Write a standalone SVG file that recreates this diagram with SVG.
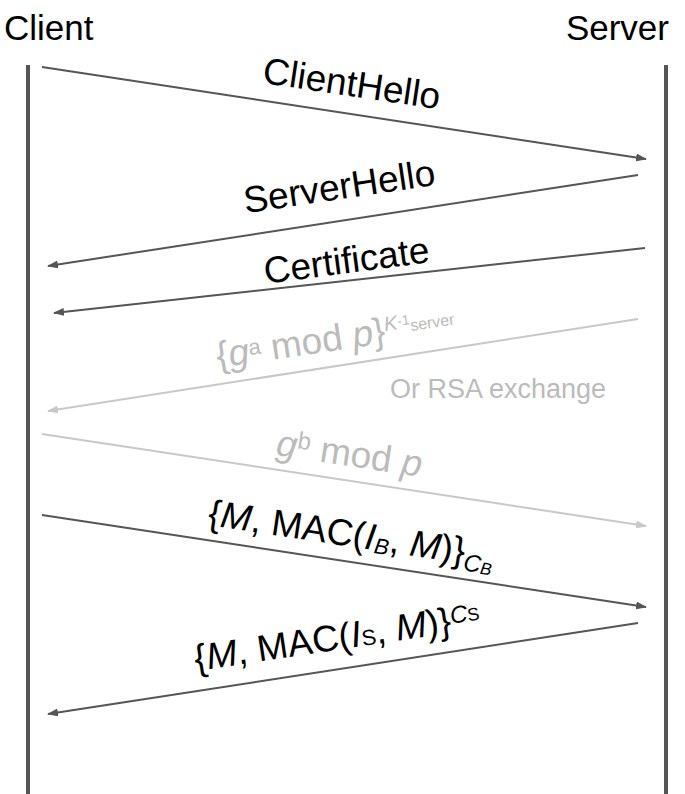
<svg xmlns="http://www.w3.org/2000/svg" width="685" height="794" viewBox="0 0 685 794">
<style>
text{font-family:"Liberation Sans",Arial,sans-serif;}
.title{font-size:35px;fill:#000;}
.lbl{font-size:37px;fill:#000;}
.lbl-g{font-size:37px;fill:#bbbbbb;}
.life{stroke:#555;stroke-width:4;fill:none;}
.msg{stroke:#555;stroke-width:2;fill:none;marker-end:url(#ad);}
.msg-g{stroke:#c8c8c8;stroke-width:2;fill:none;marker-end:url(#al);}
.it{font-style:italic;}
</style>
<defs>
<marker id="ad" markerWidth="11" markerHeight="8" refX="10" refY="4" orient="auto" markerUnits="userSpaceOnUse"><path d="M0,0 L11,4 L0,8 Z" fill="#555"/></marker>
<marker id="al" markerWidth="11" markerHeight="8" refX="10" refY="4" orient="auto" markerUnits="userSpaceOnUse"><path d="M0,0 L11,4 L0,8 Z" fill="#c8c8c8"/></marker>
</defs>
<rect width="685" height="794" fill="#fff"/>
<g id="client">
<text class="title" x="4" y="40">Client</text>
<line class="life" x1="28" y1="65" x2="28" y2="794"/>
</g>
<g id="server">
<text class="title" x="669" y="40" text-anchor="end">Server</text>
<line class="life" x1="666" y1="65" x2="666" y2="794"/>
</g>
<g id="connectors">
<line class="msg" x1="42" y1="67" x2="646" y2="159"/>
<line class="msg" x1="638" y1="175" x2="48" y2="266"/>
<line class="msg" x1="645" y1="248" x2="54" y2="313"/>
<line class="msg-g" x1="638" y1="319" x2="48" y2="411"/>
<line class="msg-g" x1="42" y1="434" x2="646" y2="526"/>
<line class="msg" x1="42" y1="515" x2="646" y2="607"/>
<line class="msg" x1="638" y1="623" x2="48" y2="714"/>
</g>
<g id="labels">
<text class="lbl" transform="translate(350,96) rotate(8.5)" text-anchor="middle">ClientHello</text>
<text class="lbl" font-size="38" transform="translate(341,199) rotate(-8.5)" text-anchor="middle">ServerHello</text>
<text class="lbl" transform="translate(348,273) rotate(-7.5)" text-anchor="middle">Certificate</text>
<text class="lbl-g" font-size="34" transform="translate(218,368) rotate(-8.5)">{<tspan class="it">g</tspan><tspan font-size="22" dy="-8">a</tspan><tspan dy="8"> mod </tspan><tspan class="it">p</tspan>}<tspan class="it" font-size="20" dy="-12">K</tspan><tspan font-size="14" dy="-3">-1</tspan><tspan font-size="16" dy="7">server</tspan></text>
<text x="390" y="398" font-size="27" fill="#bbbbbb">Or RSA exchange</text>
<text class="lbl-g" transform="translate(275,455) rotate(8.5)"><tspan class="it">g</tspan><tspan font-size="24" dy="-10">b</tspan><tspan dy="10"> mod </tspan><tspan class="it">p</tspan></text>
<text class="lbl" transform="translate(207,525) rotate(8.5)">{<tspan class="it">M</tspan>, MAC(<tspan class="it">I</tspan><tspan class="it" font-size="22" dy="3">B</tspan><tspan dy="-3">, </tspan><tspan class="it">M</tspan>)}<tspan class="it" font-size="24" dy="7">C</tspan><tspan class="it" font-size="17" dy="1">B</tspan></text>
<text class="lbl" transform="translate(196,671) rotate(-8.5)">{<tspan class="it">M</tspan>, MAC(<tspan class="it">I</tspan><tspan font-size="22">S</tspan>, <tspan class="it">M</tspan>)}<tspan class="it" font-size="24" dy="-9">C</tspan><tspan font-size="18">S</tspan></text>
</g>
</svg>
